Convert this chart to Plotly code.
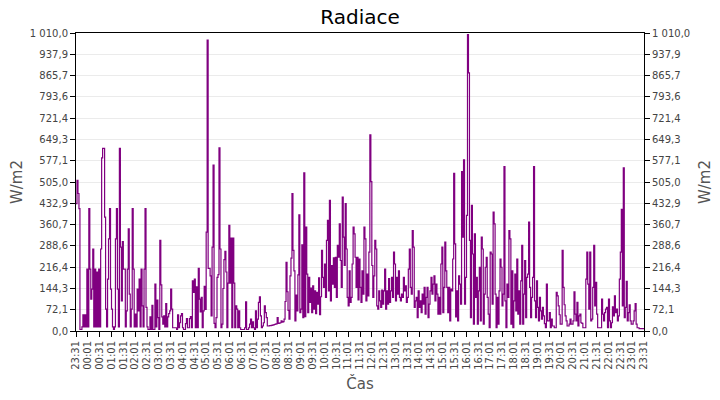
import datetime as dt
import plotly.graph_objects as go

# ---- data (W/m2, one sample per 2.5 min starting at 23:31) ----
START = dt.datetime(2024, 1, 1, 23, 31)
STEP_SECONDS = 150

VALUES = [
    432, 511, 466, 415, 5, 5, 14, 55, 14, 55,
    14, 210, 14, 415, 210, 108, 142, 278, 14, 210,
    14, 200, 14, 210, 14, 278, 587, 619, 619, 386,
    74, 14, 176, 312, 415, 142, 74, 14, 5, 14,
    312, 415, 142, 14, 619, 284, 102, 303, 210, 210,
    14, 68, 210, 346, 125, 14, 74, 415, 210, 14,
    57, 14, 142, 68, 176, 14, 210, 85, 14, 210,
    415, 80, 14, 5, 5, 48, 5, 87, 5, 5,
    159, 14, 105, 45, 5, 307, 156, 48, 23, 51,
    14, 93, 14, 48, 59,
    68, 142, 74, 11, 11,
    11, 11, 5, 55, 11, 28, 51, 59, 11, 5,
    5, 25, 42, 11, 11, 42, 49, 11, 170, 131,
    176, 11, 150, 11, 212, 108, 65, 114, 11, 68,
    151, 73, 335, 986, 212, 212, 187, 51, 284, 562,
    26, 11, 45, 182, 191, 621, 278, 11, 23, 144,
    242, 270, 200, 11, 162, 358, 162, 315, 11, 315,
    162, 11, 85, 74, 11, 68, 11, 5, 5, 5,
    5, 11, 99, 5, 5, 11, 23, 40, 11, 31,
    11, 5, 68, 11, 40, 97, 116, 51, 11, 17,
    28, 85, 62, 45, 17, 17, 18, 18, 19, 20,
    21, 22, 23, 24, 45, 26, 27, 28, 34, 30,
    32, 40, 100, 233, 133, 70, 40, 187, 247, 466,
    273, 204, 34, 122, 68, 190, 394, 62, 74, 292,
    45, 536, 49, 352, 193, 62, 182, 97, 145, 62,
    153, 74, 136, 59, 131, 91, 180, 55, 116, 273,
    182, 148, 227, 114, 307, 375, 136, 443, 102, 222,
    159, 248, 148, 250, 114, 290, 250, 363, 239, 148,
    454, 318, 222, 432, 278, 114, 85, 204, 97, 114,
    227, 352, 329, 250, 148, 250,
    105, 244, 148, 97,
    204, 125, 352, 312, 102, 193, 119, 267, 665, 506,
    222, 114, 187, 307, 278, 85, 74, 136, 102, 80,
    139, 91, 136, 210, 74, 136, 91, 178, 97, 136,
    182, 114, 267, 227, 102, 182, 125, 204, 114, 102,
    125, 114, 182, 136, 153, 97, 114, 210, 278, 148,
    125, 340, 284, 80, 102, 114, 45, 136, 80, 102,
    62, 125, 91, 148, 57, 114, 148, 45, 91, 136,
    182, 125, 159, 187, 102, 159, 125, 57, 114, 57,
    227, 284, 62, 148, 301, 204, 148, 62, 148, 34,
    142, 136, 244, 534, 295, 48, 136, 34, 187, 159,
    91, 540, 318, 580, 91, 182, 392, 1005, 875, 307,
    45, 426, 261, 23, 329, 114, 182, 23, 136, 216,
    34, 318, 278, 23, 125, 216, 250, 114, 57, 11,
    267, 261, 91, 403, 363, 125, 11, 114, 23, 136,
    244, 216, 85, 125, 557, 102, 11, 159, 114, 340,
    312, 23, 204, 11, 102, 193, 68, 244, 57, 136,
    23, 170, 290, 23, 125, 239, 45, 182, 193, 369,
    148, 45, 114, 182, 557, 102, 45, 170, 80, 34,
    114, 68, 40, 80, 51, 25, 11,
    159, 34, 34,
    62, 11, 40, 17, 17, 11, 11, 131, 119, 85,
    55, 23, 23, 273, 148, 89, 51, 34, 17, 17,
    23, 40, 23, 23, 34, 133, 57, 34, 97, 17,
    51, 57, 28, 26, 11, 11, 11, 176, 267, 159,
    74, 267, 34, 40, 148, 290, 85, 165, 57, 11,
    11, 11, 11, 108, 57, 34, 62, 74, 80, 11,
    108, 34, 11, 28, 82, 51, 119, 62, 74, 34,
    51, 176, 267, 412, 85, 553, 45, 80, 168, 34,
    62, 89, 34, 23, 23, 34, 68, 93, 23, 11,
    11, 8, 8, 8, 8, 8, 8,
]

X_TICK_LABELS = [
    "23:31", "00:01", "00:31", "01:01", "01:31", "02:01", "02:31", "03:01",
    "03:31", "04:01", "04:31", "05:01", "05:31", "06:01", "06:31", "07:01",
    "07:31", "08:01", "08:31", "09:01", "09:31", "10:01", "10:31", "11:01",
    "11:31", "12:01", "12:31", "13:01", "13:31", "14:01", "14:31", "15:01",
    "15:31", "16:01", "16:31", "17:01", "17:31", "18:01", "18:31", "19:01",
    "19:31", "20:01", "20:31", "21:01", "21:31", "22:01", "22:31", "23:01",
    "23:31",
]

Y_TICK_LABELS = [
    "0,0", "72,1", "144,3", "216,4", "288,6", "360,7", "432,9", "505,0",
    "577,1", "649,3", "721,4", "793,6", "865,7", "937,9", "1 010,0",
]
Y_MAX = 1010.0

times = [START + dt.timedelta(seconds=STEP_SECONDS * i) for i in range(len(VALUES))]
x_ticks = [START + dt.timedelta(minutes=30 * i) for i in range(len(X_TICK_LABELS))]
y_ticks = [Y_MAX * i / (len(Y_TICK_LABELS) - 1) for i in range(len(Y_TICK_LABELS))]
x_end = x_ticks[-1]

FONT = "DejaVu Sans"
TICK_COLOR = "#444444"
TITLE_COLOR = "#555555"

fig = go.Figure()
fig.add_trace(go.Scatter(
    x=times, y=VALUES, mode="lines",
    line=dict(color="#800080", width=1.2, shape="hv"),
    name="Radiace", showlegend=False,
    hovertemplate="%{x|%H:%M}<br>%{y:.1f} W/m2<extra></extra>",
))
fig.add_trace(go.Scatter(
    x=[times[0]], y=[None], yaxis="y2", mode="lines",
    showlegend=False, hoverinfo="skip",
))

fig.update_layout(
    width=720, height=400,
    margin=dict(l=76, r=76, t=33, b=69, autoexpand=False),
    paper_bgcolor="white", plot_bgcolor="white",
    title=dict(text="Radiace", x=0.5, xanchor="center", y=0.957, yanchor="middle",
               yref="container", automargin=False,
               font=dict(family=FONT, size=20, color="black")),
    font=dict(family=FONT, size=10, color=TICK_COLOR),
    xaxis=dict(
        range=[START, x_end], tickmode="array", tickvals=x_ticks, ticktext=X_TICK_LABELS,
        tickangle=-90, ticks="outside", ticklen=5, tickcolor="black",
        showline=True, linecolor="black", linewidth=1, mirror=True,
        showgrid=False, zeroline=False, automargin=False,
        tickfont=dict(family=FONT, size=10, color=TICK_COLOR),
        title=dict(text="Čas", font=dict(family=FONT, size=15, color=TITLE_COLOR), standoff=9),
    ),
    yaxis=dict(
        range=[0, Y_MAX], tickmode="array", tickvals=y_ticks, ticktext=Y_TICK_LABELS,
        ticks="outside", ticklen=5, tickcolor="black",
        showline=True, linecolor="black", linewidth=1,
        showgrid=True, gridcolor="#ebebeb", gridwidth=1, zeroline=False, automargin=False,
        tickfont=dict(family=FONT, size=10, color=TICK_COLOR),
        title=dict(text="W/m2", font=dict(family=FONT, size=15, color=TITLE_COLOR), standoff=3),
    ),
    yaxis2=dict(
        range=[0, Y_MAX], tickmode="array", tickvals=y_ticks, ticktext=Y_TICK_LABELS,
        overlaying="y", side="right",
        ticks="outside", ticklen=5, tickcolor="black",
        showline=True, linecolor="black", linewidth=1,
        showgrid=False, zeroline=False, automargin=False,
        tickfont=dict(family=FONT, size=10, color=TICK_COLOR),
        title=dict(text="W/m2", font=dict(family=FONT, size=15, color=TITLE_COLOR), standoff=10),
    ),
)

fig.write_html(
    "out.html",
    config={"displayModeBar": False},
    post_script="document.body.style.margin='0';document.body.style.padding='0';",
)
